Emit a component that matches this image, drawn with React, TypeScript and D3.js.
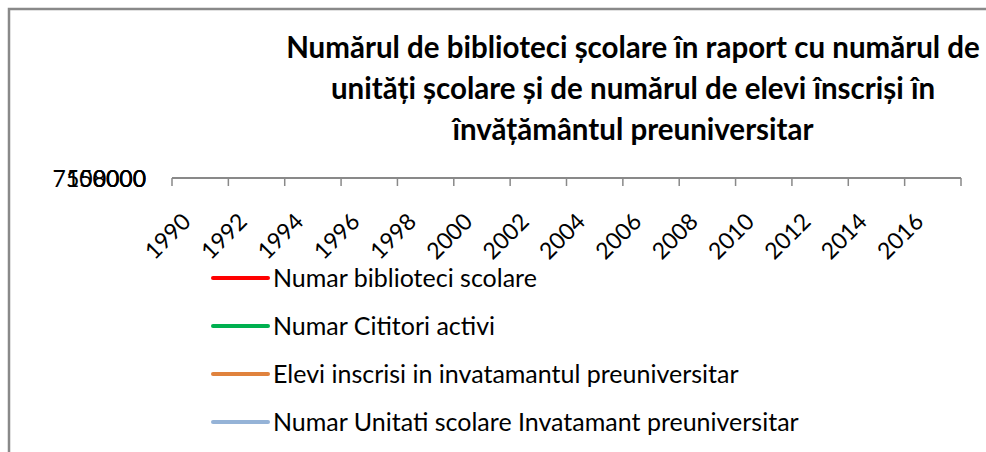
import React, { useEffect, useRef } from 'react';
import * as d3 from 'd3';

// categories on the x axis (every second year)
const years = ['1990', '1992', '1994', '1996', '1998', '2000', '2002', '2004', '2006', '2008', '2010', '2012', '2014', '2016'];

// series shown in the legend (no points are visible in the plot: it has zero height)
const seriesNames = [
  'Numar biblioteci scolare',
  'Numar Cititori activi',
  'Elevi inscrisi in invatamantul preuniversitar',
  'Numar Unitati scolare Invatamant preuniversitar',
];
const seriesColors = ['#ff0000', '#00b050', '#e0823d', '#95b3d7'];

// value-axis labels, all collapsed onto the same spot
const yTickLabels = ['7500000', '150000', '8000'];

const titleLines = [
  'Numărul de biblioteci școlare în raport cu numărul de',
  'unități școlare și de numărul de elevi înscriși în',
  'învățământul preuniversitar',
];

const W = 986;
const H = 452;
const FONT = 'Lato, "Open Sans", sans-serif';

const App = () => {
  const svgRef = useRef<SVGSVGElement>(null);

  const draw = () => {
    const svg = d3.select(svgRef.current);
    svg.selectAll('*').remove();

    // chart frame (right/bottom edges fall outside the picture)
    svg.append('rect')
      .attr('x', 9).attr('y', 9)
      .attr('width', 1200).attr('height', 1000)
      .attr('fill', '#fff')
      .attr('stroke', '#898989')
      .attr('stroke-width', 2.5);

    // title
    svg.append('g').selectAll('text')
      .data(titleLines)
      .join('text')
      .attr('x', 633)
      .attr('y', (d, i) => 58 + i * 41)
      .attr('text-anchor', 'middle')
      .style('font-family', FONT)
      .style('font-weight', 700)
      .style('font-size', '29.5px')
      .text(d => d);

    const axisY = 178;
    const xScale = d3.scaleBand().domain(years).range([172, 961]);
    const yScale = d3.scaleLinear().domain([0, 7500000]).range([axisY, axisY]);

    // x axis line + ticks on category boundaries
    const gx = svg.append('g');
    gx.append('line')
      .attr('x1', xScale.range()[0]).attr('x2', xScale.range()[1])
      .attr('y1', axisY).attr('y2', axisY)
      .attr('stroke', '#898989').attr('stroke-width', 2);
    const bounds = years.map(y => xScale(y) as number).concat([xScale.range()[1]]);
    gx.selectAll('line.tick')
      .data(bounds)
      .join('line')
      .attr('class', 'tick')
      .attr('x1', d => d).attr('x2', d => d)
      .attr('y1', axisY).attr('y2', axisY + 8)
      .attr('stroke', '#898989').attr('stroke-width', 1.5);

    gx.selectAll('text')
      .data(years)
      .join('text')
      .attr('transform', d => {
        const cx = (xScale(d) as number) + xScale.bandwidth() / 2 - 8;
        return `translate(${cx},${axisY + 45}) rotate(-45)`;
      })
      .attr('text-anchor', 'end')
      .style('font-family', FONT)
      .style('font-size', '23px')
      .text(d => d);

    // value axis labels
    svg.append('g').selectAll('text')
      .data(yTickLabels)
      .join('text')
      .attr('x', 146)
      .attr('y', d => yScale(+d) + 9)
      .attr('text-anchor', 'end')
      .style('font-family', FONT)
      .style('font-size', '23px')
      .text(d => d);

    // legend
    const legend = svg.append('g').selectAll('g')
      .data(seriesNames)
      .join('g')
      .attr('transform', (d, i) => `translate(213,${278 + i * 48})`);
    legend.append('line')
      .attr('x1', 0).attr('x2', 55)
      .attr('stroke', (d, i) => seriesColors[i])
      .attr('stroke-width', 4)
      .attr('stroke-linecap', 'round');
    legend.append('text')
      .attr('x', 60)
      .attr('dy', '0.35em')
      .style('font-family', FONT)
      .style('font-size', '25px')
      .text(d => d);
  };

  useEffect(() => {
    draw();
  }, []);

  return (
    <div style={{ position: 'fixed', left: 0, top: 0, width: W, height: H, overflow: 'hidden', background: '#fff' }}>
      <svg ref={svgRef} width={W} height={H} style={{ display: 'block' }} />
    </div>
  );
};

export default App;
